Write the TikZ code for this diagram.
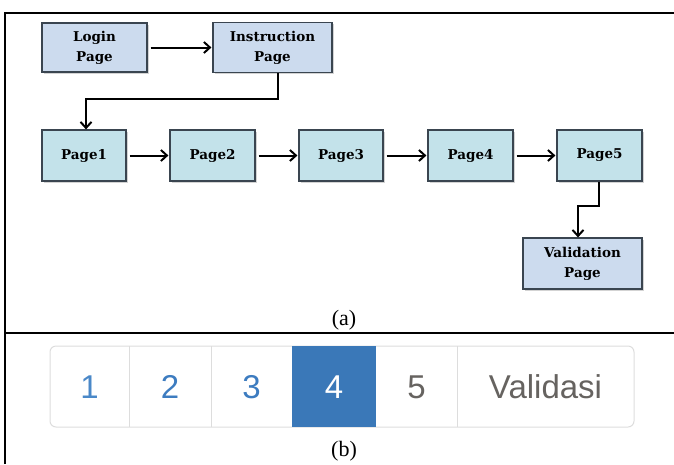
\documentclass[tikz,border=0pt]{standalone}
\usepackage{fontspec}
\newfontfamily\capfont{Liberation Serif}
\newfontfamily\pagfont{Liberation Sans}
\newfontfamily\boxfont{DejaVu Serif}
\usetikzlibrary{arrows.meta,shadows}
\definecolor{boxblue}{HTML}{CCDBEE}
\definecolor{boxcyan}{HTML}{C3E2EA}
\definecolor{boxedge}{HTML}{3A4550}
\definecolor{pagblue}{HTML}{3A78B8}
\definecolor{pagline}{HTML}{DDDDDD}
\definecolor{pagtext}{HTML}{4A88C8}
\definecolor{pagtextb}{HTML}{3D7CC0}
\definecolor{paggray}{HTML}{666360}
\tikzset{
  x=1pt, y=-1pt,
  pagebox/.style={draw=boxedge, line width=1.2pt, fill=boxcyan, inner sep=0pt,
    font=\boxfont\fontsize{13.5}{20}\selectfont\bfseries, align=center,
    drop shadow={shadow xshift=1.5pt, shadow yshift=-1.5pt, opacity=0.35}},
  bluebox/.style={pagebox, fill=boxblue},
  conn/.style={line width=2pt, black, -{Straight Barb[length=6pt,width=11pt,line width=2pt]}},
  frameline/.style={line width=2.4pt, black},
  cell/.style={inner sep=0pt, font=\pagfont\fontsize{33}{33}\selectfont},
  caption/.style={font=\capfont\fontsize{22}{22}\selectfont}
}
\begin{document}
\begin{tikzpicture}
\useasboundingbox (0,0) rectangle (674,464);
% frame
\draw[frameline] (5,464) -- (5,13) -- (674,13);
\draw[frameline] (5,333) -- (674,333);
% boxes
\node[bluebox, minimum width=105pt, minimum height=49pt] (login) at (94.5,47.5) {Login\\Page};
\node[bluebox, minimum width=119pt, minimum height=50pt] (instr) at (272.5,47.5) {Instruction\\Page};
\node[pagebox, minimum width=84pt, minimum height=51pt] (p1) at (84,155.5) {Page1};
\node[pagebox, minimum width=85pt, minimum height=51pt] (p2) at (212.5,155.5) {Page2};
\node[pagebox, minimum width=84pt, minimum height=51pt] (p3) at (341,155.5) {Page3};
\node[pagebox, minimum width=85pt, minimum height=51pt] (p4) at (470.5,155.5) {Page4};
\node[pagebox, minimum width=85pt, minimum height=51pt] (p5) at (599.5,155.5) {Page5};
\node[bluebox, minimum width=119pt, minimum height=51pt] (valid) at (582.5,263.5) {Validation\\Page};
% connectors
\draw[conn] ([xshift=3pt]login.east) -- ([xshift=-1pt]instr.west);
\coordinate (e1a) at (278,99);
\coordinate (e1b) at (86,99);
\draw[conn] (instr.south -| e1a) -- (e1a) -- (e1b) -- (e1b |- p1.north);
\draw[conn] ([xshift=3pt]p1.east) -- ([xshift=-1pt]p2.west);
\draw[conn] ([xshift=3pt]p2.east) -- ([xshift=-1pt]p3.west);
\draw[conn] ([xshift=3pt]p3.east) -- ([xshift=-1pt]p4.west);
\draw[conn] ([xshift=3pt]p4.east) -- ([xshift=-1pt]p5.west);
\coordinate (e2a) at (599,206);
\coordinate (e2b) at (578,206);
\draw[conn] (p5.south -| e2a) -- (e2a) -- (e2b) -- (e2b |- valid.north);
\node[caption] (capa) at (344,320) {(a)};
% pagination
\draw[pagline, line width=1pt, rounded corners=6pt, fill=white] (50,346) rectangle (634,427);
\fill[pagblue] (292,346) rectangle (376,427);
\foreach \xx in {129,211,457} \draw[pagline, line width=1pt] (\xx,346) -- (\xx,427);
\node[cell, text=pagtext] (c1) at (89.5,387) {1};
\node[cell, text=pagtextb] (c2) at (170,387) {2};
\node[cell, text=pagtextb] (c3) at (251.5,387) {3};
\node[cell, text=white] (c4) at (334,387) {4};
\node[cell, text=paggray] (c5) at (416.5,387) {5};
\node[cell, text=paggray] (c6) at (545.5,387) {Validasi};
\node[caption] (capb) at (344,451) {(b)};
\end{tikzpicture}
\end{document}
